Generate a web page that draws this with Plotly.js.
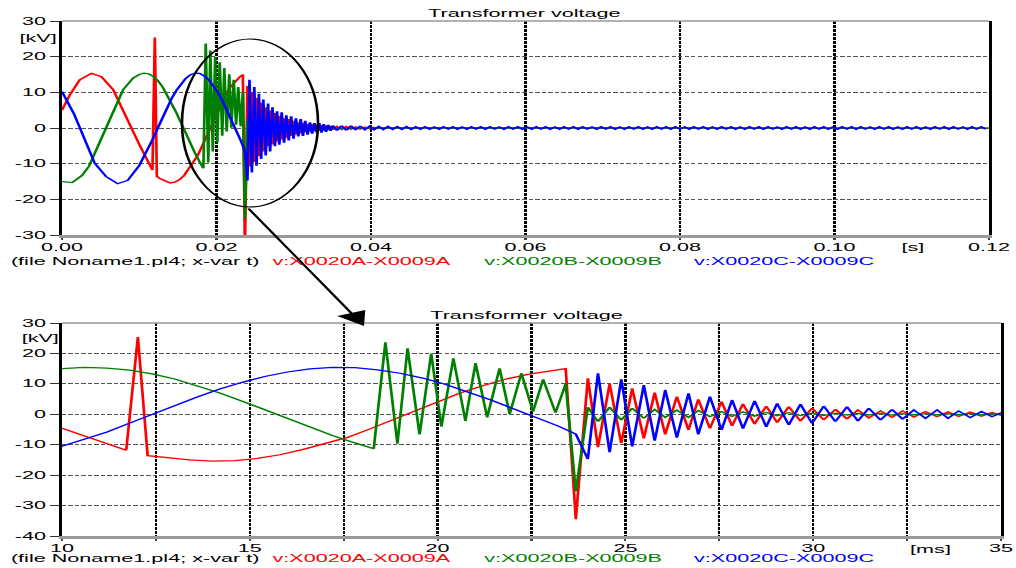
<!DOCTYPE html>
<html>
<head>
<meta charset="utf-8">
<script src="https://cdn.plot.ly/plotly-3.0.1.min.js"></script>
<style>
html, body { margin:0; padding:0; overflow:hidden; background:#fff; }
#wrap { width:1016px; height:568px; overflow:hidden; }
#plot { width:470px; height:568px; transform: scaleX(2.161702); transform-origin: 0 0; }
</style>
</head>
<body>
<div id="wrap"><div id="plot"></div></div>
<script>
// ---- data (time in ms, voltage in kV) ----
const tRedPre = [0, 1.0, 2.3, 3.8, 5.1, 6.6, 10.0, 11.71, 12.02, 12.28, 12.8, 13.4, 14.0, 14.6, 15.2, 15.8, 16.4, 17.0, 17.6, 18.2, 18.8, 19.4, 20.0, 20.6, 21.2, 21.8, 22.4, 23.0, 23.41];
const vRedPre = [5.0, 9.2, 13.5, 15.3, 14.4, 10.8, -4.6, -11.8, 25.4, -13.6, -14.3, -15.0, -15.4, -15.2, -14.5, -13.3, -11.6, -9.6, -7.6, -4.8, -1.8, 1.2, 4.3, 7.0, 9.4, 11.5, 13.1, 14.3, 15.0];

const tGreenPre = [0, 1.3, 2.6, 3.5, 5.7, 7.9, 9.2, 10.0, 10.6, 11.2, 11.8, 12.4, 13.0, 13.6, 14.2, 14.8, 15.4, 16.0, 16.6, 17.2, 17.8, 18.3, 18.61, 18.93, 19.2, 19.52, 19.83, 20.1, 20.42, 20.74, 21.01, 21.32, 21.65, 21.92, 22.23, 22.54, 22.81, 23.14, 23.41];
const vGreenPre = [-15.0, -15.3, -13.3, -10.7, 0.0, 10.7, 14.0, 15.0, 15.4, 15.2, 14.5, 13.3, 11.6, 9.4, 7.0, 4.3, 1.5, -1.5, -4.3, -7.0, -9.4, -11.3, 23.7, -9.7, 21.7, -6.6, 20.0, -4.1, 18.4, -2.2, 16.8, -1.0, 15.1, 0.1, 13.5, 0.9, 11.5, 0.5, 10.0];

const tBluePre = [0, 1.54, 4.24, 5.7, 7.2, 8.5, 10.0, 10.6, 11.2, 11.8, 12.4, 13.0, 13.6, 14.2, 14.8, 15.4, 16.0, 16.6, 17.2, 17.8, 18.4, 19.0, 19.6, 20.2, 20.8, 21.4, 22.0, 22.6, 23.2];
const vBluePre = [10.2, 4.0, -9.9, -13.6, -15.6, -14.7, -10.5, -8.2, -5.8, -2.9, 0.0, 2.9, 5.7, 8.3, 10.5, 12.4, 13.9, 14.9, 15.4, 15.3, 14.6, 13.5, 11.9, 9.9, 7.5, 4.8, 1.9, -0.8, -3.8];

// oscillation after the switching event
const tOsc = [23.68, 24.0, 24.27, 24.58, 24.89, 25.18, 25.49, 25.78, 26.06, 26.37, 26.68, 26.94, 27.25, 27.56, 27.84, 28.13, 28.44, 28.75, 29.04, 29.35, 29.66, 29.97, 30.28, 30.59, 30.9, 31.19, 31.48, 31.79, 32.1, 32.38, 32.68, 32.99, 33.3, 33.59, 33.87, 34.18, 34.48, 34.76, 35.05];
const vRedOsc = [-34.5, 11.8, -10.8, 10.0, -9.5, 8.5, -7.9, 7.1, -6.6, 5.8, -5.1, 4.9, -4.6, 4.2, -3.8, 3.4, -3.2, 2.7, -2.7, 2.5, -2.2, 2.0, -1.8, 1.6, -1.5, 1.4, -1.2, 1.1, -1.0, 1.1, -0.9, 0.9, -0.8, 0.8, -0.7, 0.7, -0.6, 0.55, -0.5];
const vGreenOsc = [-25.4, 2.3, -2.4, 2.3, -1.9, 2.0, -1.3, 1.6, -1.0, 1.4, -1.0, 1.2, -0.8, 0.9, -0.7, 0.8, -0.6, 0.6, -0.5, 0.5, -0.4, 0.4, -0.4, 0.4, -0.3, 0.3, -0.3, 0.3, -0.3, 0.2, -0.2, 0.2, -0.2, 0.2, -0.2, 0.2, -0.2, 0.2, -0.1];
const vBlueOsc = [-6.5, -14.7, 13.5, -12.5, 11.5, -10.6, 9.6, -8.7, 8.0, -7.7, 6.9, -6.6, 5.8, -5.1, 4.7, -4.7, 4.4, -4.1, 3.6, -3.5, 3.3, -3.0, 2.7, -2.4, 2.5, -2.2, 2.0, -1.9, 1.6, -1.6, 1.4, -1.3, 1.4, -1.3, 1.1, -1.1, 0.9, -0.8, 0.7];

// long tail (visible in the 0..0.12 s view)
const tRedTail = [35.6, 36.2, 36.8, 37.4, 38.0, 38.6, 39.2, 39.8, 40.4, 41.0, 41.6, 120];
const vRedTail = [0.45, -0.4, 0.4, -0.35, 0.3, -0.3, 0.25, -0.2, 0.2, -0.15, 0.1, 0];
const tGreenTail = [35.6, 36.2, 36.8, 37.4, 120];
const vGreenTail = [0.1, -0.1, 0.1, -0.05, 0];
const tBlueTail = [
 35.6, 36.2, 36.8, 37.4, 38.0, 38.6, 39.2, 39.8, 40.4, 41.0,
 41.6, 42.2, 42.8, 43.4, 44.0, 44.6, 45.2, 45.8, 46.4, 47.0,
 47.6, 48.2, 48.8, 49.4, 50.0, 50.6, 51.2, 51.8, 52.4, 53.0,
 53.6, 54.2, 54.8, 55.4, 56.0, 56.6, 57.2, 57.8, 58.4, 59.0,
 59.6, 60.2, 60.8, 61.4, 62.0, 62.6, 63.2, 63.8, 64.4, 65.0,
 65.6, 66.2, 66.8, 67.4, 68.0, 68.6, 69.2, 69.8, 70.4, 71.0,
 71.6, 72.2, 72.8, 73.4, 74.0, 74.6, 75.2, 75.8, 76.4, 77.0,
 77.6, 78.2, 78.8, 79.4, 80.0, 80.6, 81.2, 81.8, 82.4, 83.0,
 83.6, 84.2, 84.8, 85.4, 86.0, 86.6, 87.2, 87.8, 88.4, 89.0,
 89.6, 90.2, 90.8, 91.4, 92.0, 92.6, 93.2, 93.8, 94.4, 95.0,
 95.6, 96.2, 96.8, 97.4, 98.0, 98.6, 99.2, 99.8, 100.4, 101.0,
 101.6, 102.2, 102.8, 103.4, 104.0, 104.6, 105.2, 105.8, 106.4, 107.0,
 107.6, 108.2, 108.8, 109.4, 110.0, 110.6, 111.2, 111.8, 112.4, 113.0,
 113.6, 114.2, 114.8, 115.4, 116.0, 116.6, 117.2, 117.8, 118.4, 119.0,
 119.6];
const vBlueTail = [
 -0.7, 0.65, -0.6, 0.6, -0.55, 0.55, -0.5, 0.5, -0.5, 0.45,
 -0.45, 0.45, -0.4, 0.4, -0.4, 0.4, -0.4, 0.35, -0.35, 0.35,
 -0.35, 0.3, -0.35, 0.35, -0.3, 0.35, -0.35, 0.3, -0.35, 0.35,
 -0.3, 0.35, -0.35, 0.35, -0.3, 0.3, -0.35, 0.35, -0.3, 0.35,
 -0.35, 0.3, -0.35, 0.35, -0.3, 0.35, -0.35, 0.3, -0.35, 0.35,
 -0.3, 0.35, -0.35, 0.35, -0.3, 0.3, -0.35, 0.35, -0.3, 0.35,
 -0.35, 0.3, -0.35, 0.35, -0.3, 0.35, -0.35, 0.3, -0.35, 0.35,
 -0.3, 0.35, -0.35, 0.35, -0.3, 0.3, -0.35, 0.35, -0.3, 0.35,
 -0.35, 0.3, -0.35, 0.35, -0.3, 0.35, -0.35, 0.3, -0.35, 0.35,
 -0.3, 0.35, -0.35, 0.35, -0.3, 0.3, -0.35, 0.35, -0.3, 0.35,
 -0.35, 0.3, -0.35, 0.35, -0.3, 0.35, -0.35, 0.3, -0.35, 0.35,
 -0.3, 0.35, -0.35, 0.35, -0.3, 0.3, -0.35, 0.35, -0.3, 0.35,
 -0.35, 0.3, -0.35, 0.35, -0.3, 0.35, -0.35, 0.3, -0.35, 0.35,
 -0.3, 0.35, -0.35, 0.35, -0.3, 0.3, -0.35, 0.35, -0.3, 0.35,
 -0.3];

// axis ticks
const topTickVals = [0, 20, 40, 60, 80, 100, 120];
const topTickText = ['0.00', '0.02', '0.04', '0.06', '0.08', '0.10', '0.12'];
const botTickVals = [10, 12.5, 15, 17.5, 20, 22.5, 25, 27.5, 30, 32.5, 35];
const botTickText = ['10', '', '15', '', '20', '', '25', '', '30', '', '35'];
const topYVals = [-30, -20, -10, 0, 10, 20, 30];
const topYText = ['-30', '-20', '-10', '0', '10', '20', '30'];
const botYVals = [-40, -30, -20, -10, 0, 10, 20, 30];
const botYText = ['-40', '-30', '-20', '-10', '0', '10', '20', '30'];

const seriesNames = ['v:X0020A-X0009A', 'v:X0020B-X0009B', 'v:X0020C-X0009C'];
const seriesColors = ['#ff0000', '#008000', '#0000ff'];
const fileLabel = '(file Noname1.pl4; x-var t)';
const chartTitle = 'Transformer voltage';

// ---- build ----
const tRed = tRedPre.concat(tOsc, tRedTail), vRed = vRedPre.concat(vRedOsc, vRedTail);
const tGreen = tGreenPre.concat(tOsc, tGreenTail), vGreen = vGreenPre.concat(vGreenOsc, vGreenTail);
const tBlue = tBluePre.concat(tOsc, tBlueTail), vBlue = vBluePre.concat(vBlueOsc, vBlueTail);
const series = [[tRed, vRed], [tGreen, vGreen], [tBlue, vBlue]];

const W = 1016, H = 568, S = 1016 / 470;
const px = x => x / W, py = y => 1 - y / H;
const FONT = 'Liberation Sans, Arial, sans-serif';
const FS = 10;

const traces = [];
['x', 'x2'].forEach((xa, k) => {
  series.forEach((s, i) => {
    traces.push({
      x: s[0], y: s[1], type: 'scatter', mode: 'lines',
      xaxis: xa, yaxis: k === 0 ? 'y' : 'y2',
      line: { color: seriesColors[i], width: 1.25 },
      name: seriesNames[i], showlegend: false, hoverinfo: 'skip'
    });
  });
});

const xCommon = {
  showgrid: true, gridcolor: '#000', gridwidth: 1.1, griddash: '3px,1px',
  showline: true, linecolor: '#999', linewidth: 2.5, mirror: false,
  ticks: 'outside', ticklen: 2, tickcolor: '#444', tickwidth: 1,
  zeroline: false, tickmode: 'array',
  tickfont: { family: FONT, size: FS, color: '#000' }, fixedrange: true
};
const yCommon = {
  showgrid: true, gridcolor: '#555', gridwidth: 1, griddash: '2px,1px',
  showline: true, linecolor: '#000', linewidth: 1.4, mirror: true,
  ticks: 'outside', ticklen: 4, tickcolor: '#333', tickwidth: 1,
  zeroline: false, tickmode: 'array',
  tickfont: { family: FONT, size: FS, color: '#000' }, fixedrange: true
};

const xd1 = [px(62), px(989)], xd2 = [px(62), px(1001)];
const yd1 = [py(235), py(21)], yd2 = [py(536), py(323)];

const layout = {
  width: 470, height: 568,
  margin: { l: 0, r: 0, t: 0, b: 0 },
  paper_bgcolor: '#fff', plot_bgcolor: '#fff',
  showlegend: false,
  font: { family: FONT, size: FS, color: '#000' },
  xaxis: Object.assign({}, xCommon, { domain: xd1, range: [0, 120], anchor: 'y', tickvals: topTickVals, ticktext: topTickText }),
  yaxis: Object.assign({}, yCommon, { domain: yd1, range: [-30, 30], anchor: 'x', tickvals: topYVals, ticktext: topYText }),
  xaxis2: Object.assign({}, xCommon, { domain: xd2, range: [10, 35], anchor: 'y2', tickvals: botTickVals, ticktext: botTickText }),
  yaxis2: Object.assign({}, yCommon, { domain: yd2, range: [-40, 30], anchor: 'x2', tickvals: botYVals, ticktext: botYText }),
  shapes: [
    { type: 'line', xref: 'paper', yref: 'paper', x0: xd1[0], x1: xd1[1], y0: yd1[1], y1: yd1[1], line: { color: '#999', width: 1.5 } },
    { type: 'line', xref: 'paper', yref: 'paper', x0: xd2[0], x1: xd2[1], y0: yd2[1], y1: yd2[1], line: { color: '#999', width: 1.5 } },
    { type: 'circle', xref: 'paper', yref: 'paper', x0: px(182), x1: px(318), y0: py(207), y1: py(39), line: { color: '#000', width: 1.2 } }
  ],
  annotations: []
};

function txt(text, x, y, color, anchor) {
  layout.annotations.push({
    text: text, xref: 'paper', yref: 'paper', x: px(x), y: py(y),
    xanchor: anchor || 'left', yanchor: 'middle', showarrow: false,
    font: { family: FONT, size: FS, color: color || '#000' }
  });
}
// titles
txt(chartTitle, 526, 13, '#000', 'center');
txt(chartTitle, 527, 315, '#000', 'center');
// units
txt('[kV]', 37, 38, '#000', 'center');
txt('[kV]', 39, 338, '#000', 'center');
txt('[s]', 913, 247, '#000', 'center');
txt('[ms]', 931, 549, '#000', 'center');
// legend rows
[261, 558].forEach(y => {
  txt(fileLabel, 6, y, '#000', 'left');
  txt(seriesNames[0], 268, y, seriesColors[0], 'left');
  txt(seriesNames[1], 480, y, seriesColors[1], 'left');
  txt(seriesNames[2], 689, y, seriesColors[2], 'left');
});
// zoom arrow
layout.annotations.push({
  text: '', xref: 'paper', yref: 'paper', x: px(364), y: py(326),
  showarrow: true, ax: (247 - 364) / S, ay: 207 - 326, axref: 'pixel', ayref: 'pixel',
  arrowhead: 2, arrowsize: 2.2, arrowwidth: 1.3, arrowcolor: '#000', standoff: 0
});

Plotly.newPlot('plot', traces, layout, { displayModeBar: false, staticPlot: true });
</script>
</body>
</html>
